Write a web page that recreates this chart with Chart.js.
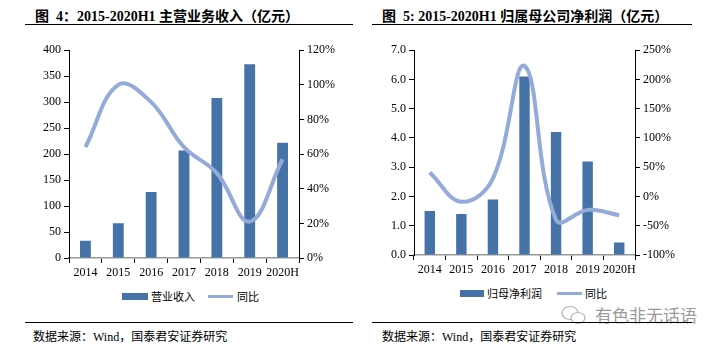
<!DOCTYPE html>
<html>
<head>
<meta charset="utf-8">
<script src="https://cdn.jsdelivr.net/npm/chart.js@4.4.0/dist/chart.umd.min.js"></script>
<style>
  body { margin: 0; background: #fff; width: 719px; height: 346px; position: relative; overflow: hidden;
         font-family: "Liberation Serif", "Noto Sans CJK SC", serif; color: #000; }
  .title { position: absolute; top: 5px; font-size: 14px; font-weight: bold; white-space: nowrap; }
  .rule { position: absolute; height: 1px; background: #000; }
  .src { position: absolute; top: 327px; font-size: 12px; white-space: nowrap; }
  .cv { position: absolute; top: 40px; height: 245px; }
  .leg { position: absolute; font-size: 11px; white-space: nowrap; top: 288px; }
  .sw-bar { position: absolute; height: 7px; background: #4572A7; }
  .sw-line { position: absolute; height: 3px; background: #94AAD8; }
  .wm { position: absolute; left: 595px; top: 302px; font-size: 17px; color: #9a9a9a;
        font-family: "Noto Sans CJK SC", sans-serif; white-space: nowrap; }
</style>
</head>
<body>
<div class="title" style="left:35px;">图&nbsp; 4：2015-2020H1 主营业务收入（亿元）</div>
<div class="rule" style="left:25px; width:328px; top:24px;"></div>
<div class="title" style="left:382px;">图&nbsp; 5: 2015-2020H1 归属母公司净利润（亿元）</div>
<div class="rule" style="left:372px; width:320px; top:24px;"></div>

<div class="cv" style="left:0; width:360px;"><canvas id="revChart"></canvas></div>
<div class="cv" style="left:360px; width:359px;"><canvas id="profitChart"></canvas></div>

<div class="sw-bar" style="left:122px; width:26px; top:293px;"></div>
<div class="leg" style="left:151px;">营业收入</div>
<div class="sw-line" style="left:208px; width:25px; top:295px;"></div>
<div class="leg" style="left:237px;">同比</div>

<div class="sw-bar" style="left:460px; width:24px; top:290px;"></div>
<div class="leg" style="left:487px; top:285px;">归母净利润</div>
<div class="sw-line" style="left:557px; width:25px; top:292px;"></div>
<div class="leg" style="left:585px; top:285px;">同比</div>

<svg style="position:absolute; left:560px; top:304px;" width="28" height="22">
  <ellipse cx="10" cy="9" rx="8" ry="6.5" fill="none" stroke="#b0b0b0" stroke-width="1.2"/>
  <ellipse cx="18" cy="14" rx="7" ry="5.5" fill="#fff" stroke="#b0b0b0" stroke-width="1.2"/>
</svg>
<div class="wm">有色非无话语</div>

<div class="rule" style="left:25px; width:328px; top:322px;"></div>
<div class="src" style="left:33px;">数据来源：Wind，国泰君安证券研究</div>
<div class="rule" style="left:372px; width:320px; top:322px;"></div>
<div class="src" style="left:382px;">数据来源：Wind，国泰君安证券研究</div>

<script>
// Data
const years = ['2014', '2015', '2016', '2017', '2018', '2019', '2020H'];
const revenue = [33, 67, 127, 207, 308, 373, 222];
const revenueYoY = [64, 100, 90, 64, 49, 21, 57];
const profit = [1.5, 1.4, 1.9, 6.1, 4.2, 3.2, 0.43];
const profitYoY = [41, -9, 31, 223, -40, -23, -32];

// Colors
const BAR_COLOR = '#4572A7';
const LINE_COLOR = '#94AAD8';
const FONT = { family: '"Liberation Serif", serif', size: 12 };

// Build a bar + line combo chart
function makeChart(id, bars, line, opts) {
  const ctx = document.getElementById(id).getContext('2d');
  const axisBase = {
    border: { color: '#000', width: 1 },
    grid: { drawOnChartArea: false, drawTicks: true, tickLength: 5, color: '#000' },
    ticks: { color: '#000', font: FONT, padding: 3 }
  };
  return new Chart(ctx, {
    data: {
      labels: years,
      datasets: [
        {
          type: 'line',
          data: line,
          yAxisID: 'y1',
          borderColor: LINE_COLOR,
          borderWidth: 4,
          pointRadius: 0,
          tension: 0.4,
          order: 0
        },
        {
          type: 'bar',
          data: bars,
          yAxisID: 'y',
          backgroundColor: BAR_COLOR,
          barPercentage: 0.33,
          categoryPercentage: 1,
          order: 1
        }
      ]
    },
    options: {
      responsive: true,
      maintainAspectRatio: false,
      animation: false,
      layout: { padding: { top: opts.top, left: 0, right: 0, bottom: 0 } },
      plugins: { legend: { display: false }, tooltip: { enabled: false } },
      scales: {
        x: {
          ...axisBase,
          border: { color: '#999', width: 1.5 },
          grid: { ...axisBase.grid, offset: true },
          ticks: { ...axisBase.ticks, maxRotation: 0, autoSkip: false, padding: 3 },
          afterFit: (s) => { s.height = opts.xHeight; }
        },
        y: {
          ...axisBase,
          position: 'left',
          min: opts.yMin, max: opts.yMax,
          ticks: { ...axisBase.ticks, stepSize: opts.yStep, callback: opts.yFmt },
          afterFit: (s) => { s.width = opts.leftW; }
        },
        y1: {
          ...axisBase,
          position: 'right',
          min: opts.y1Min, max: opts.y1Max,
          ticks: { ...axisBase.ticks, stepSize: opts.y1Step, callback: v => v + '%' },
          afterFit: (s) => { s.width = opts.rightW; }
        }
      }
    }
  });
}

makeChart('revChart', revenue, revenueYoY, {
  top: 8, xHeight: 27, leftW: 69, rightW: 61,
  yMin: 0, yMax: 400, yStep: 50, yFmt: v => v,
  y1Min: 0, y1Max: 120, y1Step: 20
});

makeChart('profitChart', profit, profitYoY, {
  top: 10, xHeight: 30, leftW: 54, rightW: 84,
  yMin: 0, yMax: 7, yStep: 1, yFmt: v => v.toFixed(1),
  y1Min: -100, y1Max: 250, y1Step: 50
});
</script>
</body>
</html>
